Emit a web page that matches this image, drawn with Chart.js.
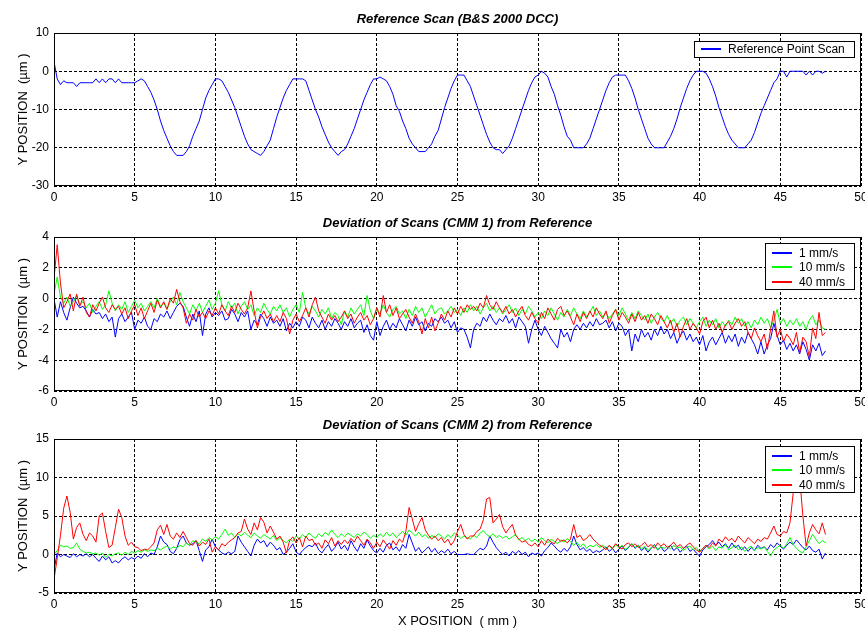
<!DOCTYPE html>
<html><head><meta charset="utf-8">
<script src="https://cdn.jsdelivr.net/npm/chart.js@4.4.1/dist/chart.umd.min.js"></script>
<style>
html,body{margin:0;padding:0;background:#fff;}
.p{position:absolute;left:0;width:865px;}
</style></head><body>
<div class="p" style="top:0;height:205px"><canvas id="c1"></canvas></div>
<div class="p" style="top:205px;height:205px"><canvas id="c2"></canvas></div>
<div class="p" style="top:410px;height:218px"><canvas id="c3"></canvas></div>
<script>
// sample spacing along X (mm)
const STEP = 0.2;

const refScan = [
 2.5,-2,-3.5,-2.5,-3,-3,-3,-4,-3,-3,
 -3,-3,-3,-2,-3,-2,-3,-2,-2,-3,
 -2,-3,-3,-3,-3,-3,-2.5,-2,-2.5,-4,
 -5.5,-7.5,-10,-13,-15.5,-17.5,-19.5,-21,-22,-22,
 -22,-21,-19.5,-17,-15,-13,-10,-7,-5,-3.5,
 -2,-2,-2.5,-4,-5.5,-7.5,-9.5,-12,-14.5,-17,
 -19,-20.5,-21,-21.5,-22,-21,-19.5,-18,-15,-12,
 -9.5,-7,-5,-3.5,-2,-2,-2,-2,-2.5,-5,
 -7.5,-10,-12,-14.5,-16.5,-18.5,-20,-21,-22,-21,
 -20.5,-19,-17,-15,-12.5,-10,-7.5,-5.5,-3.5,-2,
 -2,-1.5,-2,-2.5,-4,-6,-9,-10.5,-13,-15,
 -17.5,-19,-20,-21,-21,-21,-20,-19,-17,-15.5,
 -12.5,-9.5,-7,-4.5,-2.5,-1,-1,-1,-2.5,-4,
 -6.5,-9,-11.5,-14,-16.5,-18.5,-20,-20.5,-20.5,-21.5,
 -20.5,-19.5,-17.5,-15,-12.5,-10,-7.5,-5,-3,-1.5,
 -1,0,-0.5,-1.5,-4,-6,-9,-11.5,-14.5,-17,
 -18,-20,-20,-20,-20,-19,-17.5,-15,-12.5,-10,
 -7.5,-5,-3,-1.5,-1,-1,-1,-1,-2.5,-4.5,
 -7,-10,-12.5,-15,-17.5,-19,-20,-20,-20,-20,
 -18.5,-17,-15,-12.5,-9.5,-7,-4.5,-2.5,-1,0,
 0,0,-0.5,-2,-4,-6.5,-9.5,-12,-14.5,-16.5,
 -18,-19,-20,-20,-20,-19,-18,-16,-13.5,-11,
 -9,-7,-5,-3,-2,0,0,-1.5,0,0,
 0,0,0,-1,0,-1,0,0,-0.5,0
];

const cmm1Speed1 = [
 0,-1.2,-0.2,-0.9,-1.4,-0.6,0.1,-0.3,-0.6,-0.5,
 -0.8,-1.2,-0.7,-1.0,-0.9,-1.3,-1.0,-1.5,-1.2,-2.5,
 -1.3,-1.0,-1.5,-1.2,-0.9,-2.0,-1.4,-1.6,-1.2,-1.8,
 -2.0,-1.3,-1.5,-1.0,-1.2,-0.8,-1.3,-0.9,-0.5,-0.3,
 -0.5,-1.2,-1.8,-1.0,-1.5,-0.8,-2.4,-1.0,-0.6,-1.2,
 -0.9,-1.1,-0.8,-1.4,-1.3,-0.7,-1.0,-1.5,-0.9,-1.2,
 -0.8,-2.0,-1.4,-1.7,-1.0,-1.3,-1.8,-1.2,-1.6,-1.4,
 -1.8,-1.3,-2.1,-1.6,-1.9,-1.5,-1.8,-1.2,-1.4,-1.9,
 -1.2,-1.6,-1.9,-1.4,-2.0,-1.5,-1.8,-1.3,-1.6,-2.0,
 -1.5,-1.8,-1.3,-1.9,-1.6,-1.4,-2.2,-1.7,-2.4,-2.7,
 -1.5,-2.4,-1.8,-1.4,-2.0,-1.6,-1.9,-1.3,-1.7,-2.1,
 -1.4,-1.8,-1.2,-1.7,-1.5,-2.1,-1.6,-1.8,-1.3,-1.5,
 -1.2,-1.6,-1.4,-1.9,-1.5,-2.2,-1.9,-2.0,-2.5,-3.2,
 -2.0,-1.6,-1.8,-1.2,-1.5,-1.0,-1.4,-1.7,-1.3,-1.5,
 -1.1,-1.6,-1.3,-1.9,-1.2,-1.5,-1.8,-2.9,-2.0,-1.4,
 -2.0,-2.4,-1.8,-2.2,-2.6,-2.9,-3.2,-2.0,-2.5,-2.2,
 -2.8,-2.0,-1.7,-2.0,-1.6,-1.9,-1.5,-1.8,-1.3,-1.7,
 -1.6,-1.4,-1.9,-1.5,-2.1,-1.6,-1.8,-2.4,-2.0,-3.4,
 -2.3,-2.8,-2.0,-2.5,-2.2,-2.7,-2.0,-2.4,-1.8,-2.3,
 -2.0,-2.6,-2.2,-2.9,-2.4,-2.1,-2.7,-2.3,-2.8,-2.5,
 -3.0,-2.4,-3.4,-2.8,-2.5,-3.0,-2.6,-2.2,-2.9,-2.4,
 -2.8,-2.3,-3.1,-2.5,-2.9,-2.2,-2.6,-3.0,-3.6,-2.8,
 -3.6,-3.0,-2.6,-1.6,-2.4,-3.0,-2.7,-3.3,-2.9,-3.4,
 -3.0,-3.6,-2.8,-3.3,-4.0,-3.0,-3.4,-2.9,-3.7,-3.4
];
const cmm1Speed10 = [
 0.3,1.4,0.1,-0.3,0.1,-0.5,-0.2,0.2,-0.4,-0.2,
 -0.6,-0.3,-0.9,-0.5,-0.2,-0.7,-0.4,0.5,-0.3,-0.8,
 -0.4,-0.7,-0.2,-0.9,-0.5,-0.1,-0.6,-0.3,-0.8,-0.5,
 -0.2,-0.6,0.0,-0.5,-0.3,-0.7,-0.2,0.1,-0.4,0.4,
 -0.2,-0.6,-1.0,-0.4,-0.8,-0.3,-0.9,-0.5,-0.1,-0.7,
 -0.3,0.5,-0.4,-0.8,-0.2,-0.6,-0.3,-1.0,-0.5,-0.2,
 -0.7,-0.4,-1.1,-0.6,-0.9,-0.3,-0.7,-1.0,-0.5,-0.8,
 -0.4,-0.9,-0.6,-1.2,-0.7,-0.4,-0.9,0.4,-0.6,-1.0,
 -0.5,-0.8,-1.2,-0.7,-1.0,-0.6,-1.3,-0.9,-1.1,-1.7,
 -0.8,-1.2,-0.6,-1.0,-0.7,-0.4,-1.1,0.2,-0.8,-1.3,
 -0.6,-1.0,-0.4,-0.9,-1.2,-0.7,-0.5,-1.0,-0.8,-1.3,
 -0.7,-1.1,-0.5,-0.9,-0.6,-1.2,-0.8,-0.4,-1.0,-0.7,
 -0.6,-1.0,-0.8,-0.5,-0.9,-0.7,-1.1,-0.6,-0.9,-0.4,
 -0.8,-0.5,-1.0,-0.6,-0.3,-0.8,-0.5,-0.9,-0.6,-1.0,
 -0.7,-0.4,-0.9,-0.6,-1.1,-0.7,-1.0,-0.5,-0.8,-1.2,
 -0.9,-1.3,-0.8,-1.1,-0.6,-1.0,-1.4,-0.9,-1.2,-0.7,
 -1.1,-0.6,-1.0,-1.3,-0.8,-1.2,-0.9,-0.5,-1.1,-0.8,
 -1.2,-0.9,-1.3,-1.0,-0.7,-1.1,-0.6,-1.0,-1.4,-0.9,
 -1.3,-0.8,-1.1,-1.4,-1.0,-1.6,-1.2,-0.9,-1.3,-1.5,
 -1.1,-1.6,-1.3,-1.8,-1.4,-1.2,-1.7,-1.3,-1.6,-1.9,
 -1.5,-1.2,-1.8,-1.4,-1.7,-1.3,-1.9,-1.5,-1.8,-1.4,
 -1.7,-1.2,-1.6,-1.3,-1.8,-1.5,-1.9,-1.4,-1.7,-1.2,
 -1.6,-1.3,-1.9,-1.4,-0.7,-1.6,-1.3,-1.8,-1.4,-1.7,
 -1.3,-1.8,-1.5,-2.0,-1.4,-1.1,-1.7,-1.4,-1.9,-2.0
];
const cmm1Speed40 = [
 1.3,3.5,1.0,-0.6,-0.2,0.3,-0.8,0.3,-0.5,0.1,
 -0.9,-1.2,-0.4,-0.8,-0.3,0.1,-0.6,-0.9,-0.4,-0.7,
 -0.5,-1.0,-0.6,-1.3,-0.8,-0.4,-1.1,-0.6,-1.3,-0.8,
 -0.3,-0.9,-0.1,-0.6,-0.2,-0.7,0.0,-0.3,0.6,-0.2,
 -0.6,-1.6,-1.0,-1.4,-0.7,-1.2,-0.9,-1.3,-0.8,-1.1,
 -0.6,-1.0,-0.4,-0.8,-1.1,-0.5,-0.9,-0.3,-0.7,-1.0,
 -0.6,0.5,-0.8,-1.9,-1.2,-0.8,-1.3,-1.0,-1.5,-1.1,
 -1.5,-0.9,-1.3,-2.3,-1.4,-1.0,-1.5,-1.1,-0.6,-1.2,
 -0.4,0.1,-0.8,-1.2,-1.6,-1.0,-1.4,-1.1,-1.5,-1.2,
 -0.8,-1.3,-1.0,-1.6,-1.2,-0.9,-1.4,-1.1,-1.7,-1.3,
 -0.6,-1.2,0.2,-0.9,-0.4,-1.1,-0.6,-1.3,-1.0,-0.7,
 -1.2,-1.6,-1.0,-1.5,-2.3,-1.3,-1.9,-1.2,-2.1,-1.6,
 -1.0,-1.4,-0.8,-1.2,-0.6,-1.0,-0.5,-0.9,-0.4,-0.7,
 -0.5,-0.8,-0.3,-0.6,0.2,-0.4,-0.7,-0.2,-0.6,-0.9,
 -0.5,-1.0,-0.7,-1.2,-0.8,-0.5,-1.1,-1.4,-0.9,-1.3,
 -1.6,-0.9,-1.3,-0.6,-1.0,-1.4,-0.7,-0.5,-1.1,-0.8,
 -1.2,-1.7,-1.0,-1.5,-0.9,-1.3,-0.8,-1.2,-0.6,-1.0,
 -1.3,-0.8,-1.6,-1.1,-0.7,-1.4,-0.9,-1.2,-1.6,-1.0,
 -1.5,-0.9,-1.4,-1.1,-1.6,-1.0,-1.3,-1.7,-1.1,-1.5,
 -1.9,-1.4,-2.2,-1.6,-2.5,-1.8,-1.3,-2.0,-1.6,-1.9,
 -2.3,-1.5,-1.2,-1.9,-1.4,-2.0,-1.6,-2.2,-1.7,-1.5,
 -2.0,-1.6,-1.3,-1.8,-1.5,-2.2,-2.6,-1.9,-2.4,-2.8,
 -2.3,-3.3,-2.0,-0.8,-2.5,-2.0,-2.8,-2.3,-2.6,-3.0,
 -2.2,-3.5,-2.5,-2.8,-3.8,-1.9,-2.6,-0.9,-2.4,-2.2
];

const cmm2Speed1 = [
 -2.0,0.2,-0.3,0.0,-0.2,-0.4,0.1,-0.3,0.0,-0.2,
 0.1,-0.3,0.0,-0.5,-0.9,-0.2,-0.7,-0.3,-1.1,-0.8,
 -1.1,-0.6,-0.3,-0.7,-0.4,-0.6,-0.2,-0.5,0.1,-0.3,
 0.2,0.0,1.0,2.4,1.6,1.3,0.4,0.1,0.8,1.9,
 2.4,1.5,1.2,1.4,1.8,0.5,-0.9,0.6,1.0,2.0,
 1.0,0.6,0.2,0.0,0.3,0.1,0.4,2.4,1.6,1.0,
 0.4,-0.2,1.2,2.0,1.5,1.8,1.0,1.6,1.2,0.6,
 0.9,0.0,0.3,0.8,1.4,0.3,0.0,0.5,0.9,1.2,
 1.0,1.5,0.6,0.2,0.8,1.3,0.4,0.9,1.6,0.7,
 1.2,0.5,1.8,1.0,0.4,1.4,0.8,1.9,1.1,0.5,
 0.2,0.8,0.3,1.2,1.5,0.6,1.0,0.4,1.3,0.8,
 2.6,1.5,0.4,0.9,0.2,0.6,1.0,0.3,0.8,0.1,
 0.5,0.2,0.7,0.1,0.4,0.0,0.0,0.0,0.1,0.0,
 0.0,0.4,0.8,0.6,1.1,2.4,1.6,0.9,0.4,0.0,
 0.3,-0.2,0.4,0.1,0.5,0.0,0.3,-0.3,0.2,0.0,
 0.2,-0.2,0.5,0.9,1.5,1.1,0.6,0.3,0.8,0.4,
 1.0,2.4,1.3,0.6,0.9,0.4,0.7,0.2,0.5,0.3,
 0.6,1.0,0.4,0.8,0.2,0.7,1.1,0.5,0.9,1.4,
 0.8,1.2,0.5,0.9,0.3,0.8,1.3,0.6,1.0,0.4,
 0.7,1.2,0.5,0.9,0.3,0.8,1.1,0.4,0.7,0.2,
 -0.2,0.6,1.0,1.3,1.8,1.2,1.6,1.0,1.4,0.8,
 1.5,0.9,1.2,0.6,1.0,0.4,0.9,0.5,1.2,0.8,
 1.0,0.6,1.3,0.9,1.5,1.1,0.7,1.2,1.6,1.3,
 1.9,1.4,0.9,0.6,1.1,0.5,0.3,0.7,-0.6,0.2
];
const cmm2Speed10 = [
 0.0,0.5,1.2,1.0,1.1,0.8,0.9,1.5,0.7,0.4,
 0.2,0.3,0.1,0.2,-0.1,0.2,-0.4,0.0,-0.2,0.1,
 0.2,-0.1,0.3,0.0,0.4,0.2,0.5,0.3,0.6,0.4,
 0.6,0.5,0.8,0.6,0.9,1.1,0.7,1.0,0.8,1.2,
 1.0,1.5,1.2,1.8,1.6,1.4,2.0,1.7,2.2,1.9,
 2.3,2.0,2.6,3.3,2.5,2.8,2.2,2.7,2.4,2.9,
 2.5,2.2,2.8,2.4,2.1,2.6,2.3,2.0,2.5,1.8,
 2.2,1.8,1.5,2.0,1.7,2.4,2.0,2.6,2.2,2.8,
 2.4,2.1,2.7,2.3,2.9,2.5,3.2,2.6,2.2,2.7,
 2.3,2.8,2.5,2.2,2.7,2.4,2.9,2.6,2.1,2.5,
 2.2,2.7,2.3,2.9,2.4,2.8,2.2,2.6,3.0,2.5,
 3.2,2.8,2.4,2.9,2.3,2.6,2.1,2.5,2.2,2.7,
 2.4,2.0,2.6,2.2,2.8,2.5,2.1,2.4,2.2,2.0,
 2.5,2.2,2.8,3.1,2.6,2.3,2.7,2.2,2.5,2.1,
 2.4,2.0,2.3,2.6,1.9,2.2,1.8,2.1,1.7,2.0,
 1.6,2.2,1.8,1.5,2.0,1.7,1.4,1.9,1.6,2.1,
 1.7,1.2,1.6,1.0,1.4,0.8,1.2,1.0,1.3,0.9,
 1.2,0.8,1.1,0.7,1.3,0.9,1.2,0.6,1.0,1.4,
 0.9,1.2,0.7,1.1,0.5,0.9,1.2,0.6,1.0,0.8,
 1.1,0.7,1.2,0.8,1.0,0.5,0.9,1.1,0.6,0.9,
 0.4,0.8,1.2,0.7,1.1,0.5,1.0,0.8,1.3,0.6,
 0.9,1.2,0.6,1.0,0.4,0.8,1.1,0.5,0.9,0.7,
 1.0,0.4,-0.2,0.6,0.9,1.2,0.8,1.4,2.2,1.3,
 0.8,0.4,0.2,1.0,1.8,2.6,2.0,1.4,1.8,1.5
];
const cmm2Speed40 = [
 -3.2,-0.5,2.5,6.0,7.6,5.5,2.0,3.5,4.1,2.6,
 1.8,2.8,2.4,1.6,5.0,5.4,3.0,0.9,1.2,3.5,
 5.9,4.8,2.4,1.2,1.6,1.0,0.9,0.5,0.7,0.6,
 1.0,1.5,3.2,3.8,2.6,3.9,2.4,2.0,2.8,2.2,
 3.0,2.2,1.4,1.2,1.8,1.1,1.6,1.3,2.0,0.3,
 1.0,0.6,1.4,1.1,1.6,1.9,2.2,2.8,3.0,4.6,
 3.3,2.6,4.1,3.2,4.8,4.2,2.8,3.7,2.9,2.0,
 2.4,1.6,0.2,1.8,2.3,1.5,2.2,1.0,2.4,1.8,
 2.0,1.2,1.5,0.8,1.9,1.4,2.2,1.1,1.8,1.3,
 1.9,1.4,2.1,1.6,2.4,1.8,1.2,2.0,1.5,0.8,
 1.6,1.0,1.9,1.3,0.7,1.8,1.2,2.0,1.6,3.0,
 6.1,4.6,3.0,4.0,4.8,3.2,2.5,2.0,2.4,1.8,
 2.2,1.5,2.0,1.2,1.8,3.0,3.9,2.6,2.0,2.4,
 2.4,3.0,3.3,4.5,7.2,7.4,4.1,4.6,5.2,3.6,
 2.8,3.4,3.9,2.5,2.0,1.6,1.8,1.3,1.1,1.5,
 1.0,1.8,1.2,2.0,1.6,1.4,2.1,1.7,1.9,1.5,
 2.0,3.9,2.2,2.5,1.8,2.1,2.6,2.0,1.6,1.2,
 1.0,0.6,1.2,0.8,1.4,1.0,0.7,1.3,1.5,1.0,
 1.4,0.9,1.2,1.6,1.0,1.3,0.8,1.5,1.1,1.4,
 0.9,1.2,1.6,1.0,1.3,0.8,1.2,1.5,1.0,0.6,
 0.3,0.8,1.2,0.9,1.5,1.1,2.0,1.6,2.3,1.8,
 2.1,1.6,2.4,1.9,1.5,2.2,1.8,1.4,2.0,1.7,
 2.2,2.0,2.8,3.7,2.6,2.4,3.0,2.8,4.1,8.0,
 11.0,10.0,5.0,1.1,2.8,3.9,3.2,2.7,4.1,2.6
];

const speedLabels = ['1 mm/s', '10 mm/s', '40 mm/s'];
const speedColors = ['#0000ff', '#00ff00', '#ff0000'];
const xTicksStep = 5;

const FONT = "'Liberation Sans', Arial, sans-serif";
const pts = arr => arr.map((v, i) => ({x: Math.round(i * STEP * 10) / 10, y: v}));

// per-chart decoration settings (kept outside Chart.js option proxies)
const deco = {};

const framePlugin = {
  id: 'matlabFrame',
  afterDatasetsDraw(chart) {
    const o = deco[chart.canvas.id];
    const ctx = chart.ctx, a = chart.chartArea;
    ctx.save();
    ctx.strokeStyle = '#000'; ctx.lineWidth = 1; ctx.setLineDash([]);
    ctx.strokeRect(Math.round(a.left) + 0.5, Math.round(a.top) + 0.5,
                   Math.round(a.right - a.left) - 1, Math.round(a.bottom - a.top) - 1);
    const L = o.legend;
    if (L) {
      ctx.font = '12px ' + FONT;
      let tw = 0;
      L.items.forEach(it => { tw = Math.max(tw, ctx.measureText(it.text).width); });
      const w = Math.round(7 + 20 + 7 + tw + 10);
      const h = Math.round(L.padTop + L.rowH * L.items.length + L.padBottom);
      const x0 = Math.round(a.right - L.right - w), y0 = Math.round(a.top + L.top);
      ctx.fillStyle = '#fff';
      ctx.fillRect(x0, y0, w, h);
      ctx.strokeStyle = '#000';
      ctx.strokeRect(x0 + 0.5, y0 + 0.5, w - 1, h - 1);
      L.items.forEach((it, i) => {
        const cy = Math.round(y0 + L.padTop + L.rowH * (i + 0.5));
        ctx.strokeStyle = it.color; ctx.lineWidth = 2;
        ctx.beginPath();
        ctx.moveTo(x0 + 7, cy);
        ctx.lineTo(x0 + 27, cy);
        ctx.stroke();
        ctx.fillStyle = '#000'; ctx.textBaseline = 'middle'; ctx.textAlign = 'left';
        ctx.fillText(it.text, x0 + 34, cy + 0.5);
      });
    }
    ctx.restore();
  },
  afterDraw(chart) {
    const o = deco[chart.canvas.id];
    if (!o || !o.title) return;
    const ctx = chart.ctx, a = chart.chartArea;
    ctx.save();
    ctx.font = 'italic bold 13px ' + FONT;
    ctx.fillStyle = '#000'; ctx.textAlign = 'center'; ctx.textBaseline = 'middle';
    ctx.fillText(o.title, (a.left + a.right) / 2, a.top - o.titleGap);
    ctx.restore();
  }
};

function makeChart(id, cfg) {
  deco[id] = { title: cfg.title, titleGap: cfg.titleGap, legend: cfg.legend };
  const datasets = cfg.series.map((s, i) => ({
    label: s.label, data: pts(s.values), borderColor: s.color, backgroundColor: s.color,
    borderWidth: 1, pointRadius: 0, fill: false, tension: 0, order: cfg.series.length - i
  }));
  return new Chart(document.getElementById(id), {
    type: 'line',
    data: { datasets },
    plugins: [framePlugin],
    options: {
      responsive: true, maintainAspectRatio: false, animation: false,
      layout: { padding: { top: cfg.padTop, right: 4, left: 0, bottom: 0 } },
      plugins: { legend: { display: false }, tooltip: { enabled: false } },
      scales: {
        x: {
          type: 'linear', min: 0, max: 50,
          ticks: { stepSize: xTicksStep, color: '#000', font: { size: 12, family: FONT }, padding: 4, maxRotation: 0, autoSkip: false },
          grid: { color: '#000', lineWidth: 1, drawTicks: false },
          border: { display: false, dash: [3, 2] },
          title: cfg.xTitle ? { display: true, text: cfg.xTitle, color: '#000', font: { size: 13, family: FONT, lineHeight: 1 }, padding: { top: 0, bottom: 0 } } : { display: false },
          afterFit: s => { s.height = cfg.xHeight; s.paddingLeft = 0; s.paddingRight = 0; }
        },
        y: {
          min: cfg.yMin, max: cfg.yMax,
          ticks: { stepSize: cfg.yStep, color: '#000', font: { size: 12, family: FONT }, padding: 5, callback: v => String(v) },
          grid: { color: '#000', lineWidth: 1, drawTicks: false },
          border: { display: false, dash: [3, 2] },
          title: { display: true, text: 'Y POSITION  (\u00b5m )', color: '#000', font: { size: 13, family: FONT }, padding: { top: 16, bottom: 0 } },
          afterFit: s => { s.width = 54; s.paddingTop = 0; s.paddingBottom = 0; }
        }
      }
    }
  });
}

makeChart('c1', {
  title: 'Reference Scan (B&S 2000 DCC)', titleGap: 14, padTop: 33, xHeight: 19,
  yMin: -30, yMax: 10, yStep: 10,
  series: [{ label: 'Reference Point Scan', values: refScan, color: '#0000ff' }],
  legend: { right: 6, top: 7.5, padTop: 1.3, rowH: 14.3, padBottom: 1.3,
            items: [{ text: 'Reference Point Scan', color: '#0000ff' }] }
});
makeChart('c2', {
  title: 'Deviation of Scans (CMM 1) from Reference', titleGap: 13.5, padTop: 32, xHeight: 19,
  yMin: -6, yMax: 4, yStep: 2,
  series: [cmm1Speed1, cmm1Speed10, cmm1Speed40].map((v, i) => ({ label: speedLabels[i], values: v, color: speedColors[i] })),
  legend: { right: 6, top: 6, padTop: 3, rowH: 14.3, padBottom: 1,
            items: speedLabels.map((t, i) => ({ text: t, color: speedColors[i] })) }
});
makeChart('c3', {
  title: 'Deviation of Scans (CMM 2) from Reference', titleGap: 13.5, padTop: 29, xHeight: 35, xTitle: 'X POSITION  ( mm )',
  yMin: -5, yMax: 15, yStep: 5,
  series: [cmm2Speed1, cmm2Speed10, cmm2Speed40].map((v, i) => ({ label: speedLabels[i], values: v, color: speedColors[i] })),
  legend: { right: 6, top: 6.7, padTop: 3, rowH: 14.3, padBottom: 1,
            items: speedLabels.map((t, i) => ({ text: t, color: speedColors[i] })) }
});
</script>
</body></html>
